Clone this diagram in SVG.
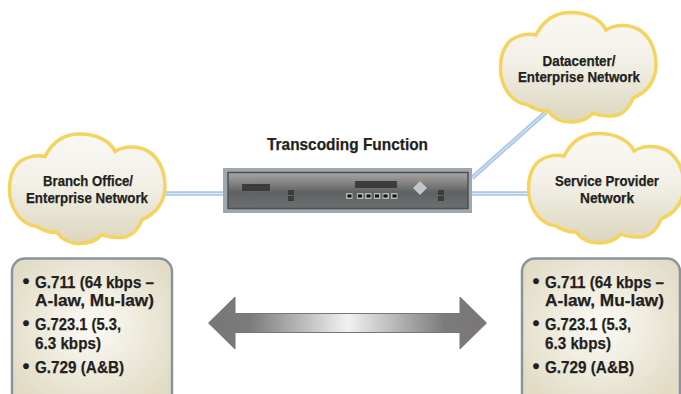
<svg xmlns="http://www.w3.org/2000/svg" width="681" height="394" viewBox="0 0 681 394">
<style>
.t{font-family:"Liberation Sans",Arial,sans-serif;font-weight:700;fill:#231f20;stroke:#231f20;stroke-width:.25;font-size:15px}
.b{font-size:17px}
.d{font-size:20px}
.h{font-size:17px}
.c{text-anchor:middle}
.cloud{fill:url(#cg);stroke:#f5d35f;stroke-width:3.5}
.box{fill:url(#bg);stroke:#8a949c;stroke-width:2.5}
.lo{stroke:#abc8e8;stroke-width:4.500;fill:none}
.li{stroke:#e6eff8;stroke-width:1;fill:none}
.k{fill:#3f3b3a}
.p{fill:#b5b5b5}
</style>
<defs>
<linearGradient id="cg" x1="0" y1="0" x2="0" y2="1"><stop offset="0" stop-color="#f9f8f4"/><stop offset=".45" stop-color="#f2f0e7"/><stop offset="1" stop-color="#dcd6bd"/></linearGradient>
<radialGradient id="bg" cx=".5" cy=".45" r=".6"><stop offset="0" stop-color="#fbfaf6"/><stop offset="1" stop-color="#e2dcc5"/></radialGradient>
<linearGradient id="ag" x1="0" y1="0" x2="1" y2="0"><stop offset="0" stop-color="#787776"/><stop offset=".15" stop-color="#7d7b7a"/><stop offset=".5" stop-color="#f2f1f0"/><stop offset=".85" stop-color="#7d7b7a"/><stop offset="1" stop-color="#787776"/></linearGradient>
<linearGradient id="dg" x1="0" y1="0" x2="0" y2="1"><stop offset="0" stop-color="#aaa7a6"/><stop offset=".55" stop-color="#5f6262"/><stop offset="1" stop-color="#6d7070"/></linearGradient>
<path id="cl" d="M37 24C45 8 58 1.500 72 1.500C88 1.500 102 8 107 19C115 14 126 14 134 16C150 21 157 38 157 54C157 70 147 82 134 87C130 98 122 105 112 105C105 105 98 104 94 102C88 109 80 111 72 111C62 111 54 107 49 100C42 100 35 98 29 94C12 92 1.500 75 1.500 57C1.500 45 5 35 12 29C19 24 29 22 37 24Z"/>
</defs>
<rect width="681" height="394" fill="#ffffff"/>
<g id="connectors">
<path class="lo" d="M165 193.500H224M471 193.500H528M472 178L546 112"/>
<path class="li" d="M165 193.500H224M471 193.500H528M472 178L546 112"/>
</g>
<g id="branch"><use href="#cl" class="cloud" x="8" y="132.500"/>
<text class="t c" x="88" y="186" textLength="90" lengthAdjust="spacingAndGlyphs">Branch Office/</text>
<text class="t c" x="87" y="203" textLength="122" lengthAdjust="spacingAndGlyphs">Enterprise Network</text></g>
<g id="datacenter"><use href="#cl" class="cloud" x="499" y="11"/>
<text class="t c" x="579" y="66" textLength="73" lengthAdjust="spacingAndGlyphs">Datacenter/</text>
<text class="t c" x="579" y="82" textLength="122" lengthAdjust="spacingAndGlyphs">Enterprise Network</text></g>
<g id="provider"><use href="#cl" class="cloud" x="527" y="132"/>
<text class="t c" x="607" y="186" textLength="104" lengthAdjust="spacingAndGlyphs">Service Provider</text>
<text class="t c" x="607" y="203" textLength="54" lengthAdjust="spacingAndGlyphs">Network</text></g>
<g id="title"><text class="t h" x="267" y="150" textLength="161" lengthAdjust="spacingAndGlyphs">Transcoding Function</text></g>
<g id="device">
<rect x="223" y="168" width="249" height="45" fill="#9fa8ae"/>
<rect x="228" y="172.500" width="240" height="36" fill="url(#dg)" stroke="#4d4f50" stroke-width="1.500"/>
<rect class="k" x="242" y="184" width="28" height="7"/>
<rect class="k" x="288" y="190" width="6" height="5"/><rect class="k" x="288" y="196" width="6" height="5"/>
<rect class="k" x="355" y="181" width="42" height="7"/>
<g><rect class="p" x="346" y="193" width="6.500" height="6"/><rect class="p" x="357" y="193" width="6.500" height="6"/><rect class="p" x="365" y="193" width="6.500" height="6"/><rect class="p" x="374" y="193" width="6.500" height="6"/><rect class="p" x="382.500" y="193" width="6.500" height="6"/><rect class="p" x="391" y="193" width="6.500" height="6"/></g>
<g fill="#111"><rect x="347.500" y="194.500" width="4" height="3"/><rect x="358" y="194.500" width="4" height="3"/><rect x="366.500" y="194.500" width="4" height="3"/><rect x="375" y="194.500" width="4" height="3"/><rect x="383.500" y="194.500" width="4" height="3"/><rect x="392.500" y="194.500" width="4" height="3"/></g>
<path d="M420 181L427 188L420 195L413 188Z" fill="#c3c6c9"/>
<rect class="k" x="438" y="190" width="6" height="5"/><rect class="k" x="438" y="196" width="6" height="5"/>
</g>
<g id="left-box"><rect class="box" x="12" y="258.500" width="160" height="150" rx="13"/>
<text class="t d" x="22.500" y="288">•</text>
<text class="t b" x="35" y="288" textLength="119" lengthAdjust="spacingAndGlyphs">G.711 (64 kbps –</text>
<text class="t b" x="35" y="305.500" textLength="119" lengthAdjust="spacingAndGlyphs">A-law, Mu-law)</text>
<text class="t d" x="22.500" y="330">•</text>
<text class="t b" x="35" y="330" textLength="86" lengthAdjust="spacingAndGlyphs">G.723.1 (5.3,</text>
<text class="t b" x="35" y="348.500" textLength="66" lengthAdjust="spacingAndGlyphs">6.3 kbps)</text>
<text class="t d" x="22.500" y="373">•</text>
<text class="t b" x="35" y="373" textLength="89" lengthAdjust="spacingAndGlyphs">G.729 (A&amp;B)</text></g>
<g id="right-box"><rect class="box" x="522" y="258.500" width="158" height="150" rx="13"/>
<text class="t d" x="532.500" y="288">•</text>
<text class="t b" x="545" y="288" textLength="119" lengthAdjust="spacingAndGlyphs">G.711 (64 kbps –</text>
<text class="t b" x="545" y="305.500" textLength="119" lengthAdjust="spacingAndGlyphs">A-law, Mu-law)</text>
<text class="t d" x="532.500" y="330">•</text>
<text class="t b" x="545" y="330" textLength="86" lengthAdjust="spacingAndGlyphs">G.723.1 (5.3,</text>
<text class="t b" x="545" y="348.500" textLength="66" lengthAdjust="spacingAndGlyphs">6.3 kbps)</text>
<text class="t d" x="532.500" y="373">•</text>
<text class="t b" x="545" y="373" textLength="89" lengthAdjust="spacingAndGlyphs">G.729 (A&amp;B)</text></g>
<g id="arrow"><path d="M208.500 323L235 297V313.500H460V297L486.500 323L460 349V332.500H235V349Z" fill="url(#ag)" stroke="#77767a" stroke-width="1"/></g>
</svg>
